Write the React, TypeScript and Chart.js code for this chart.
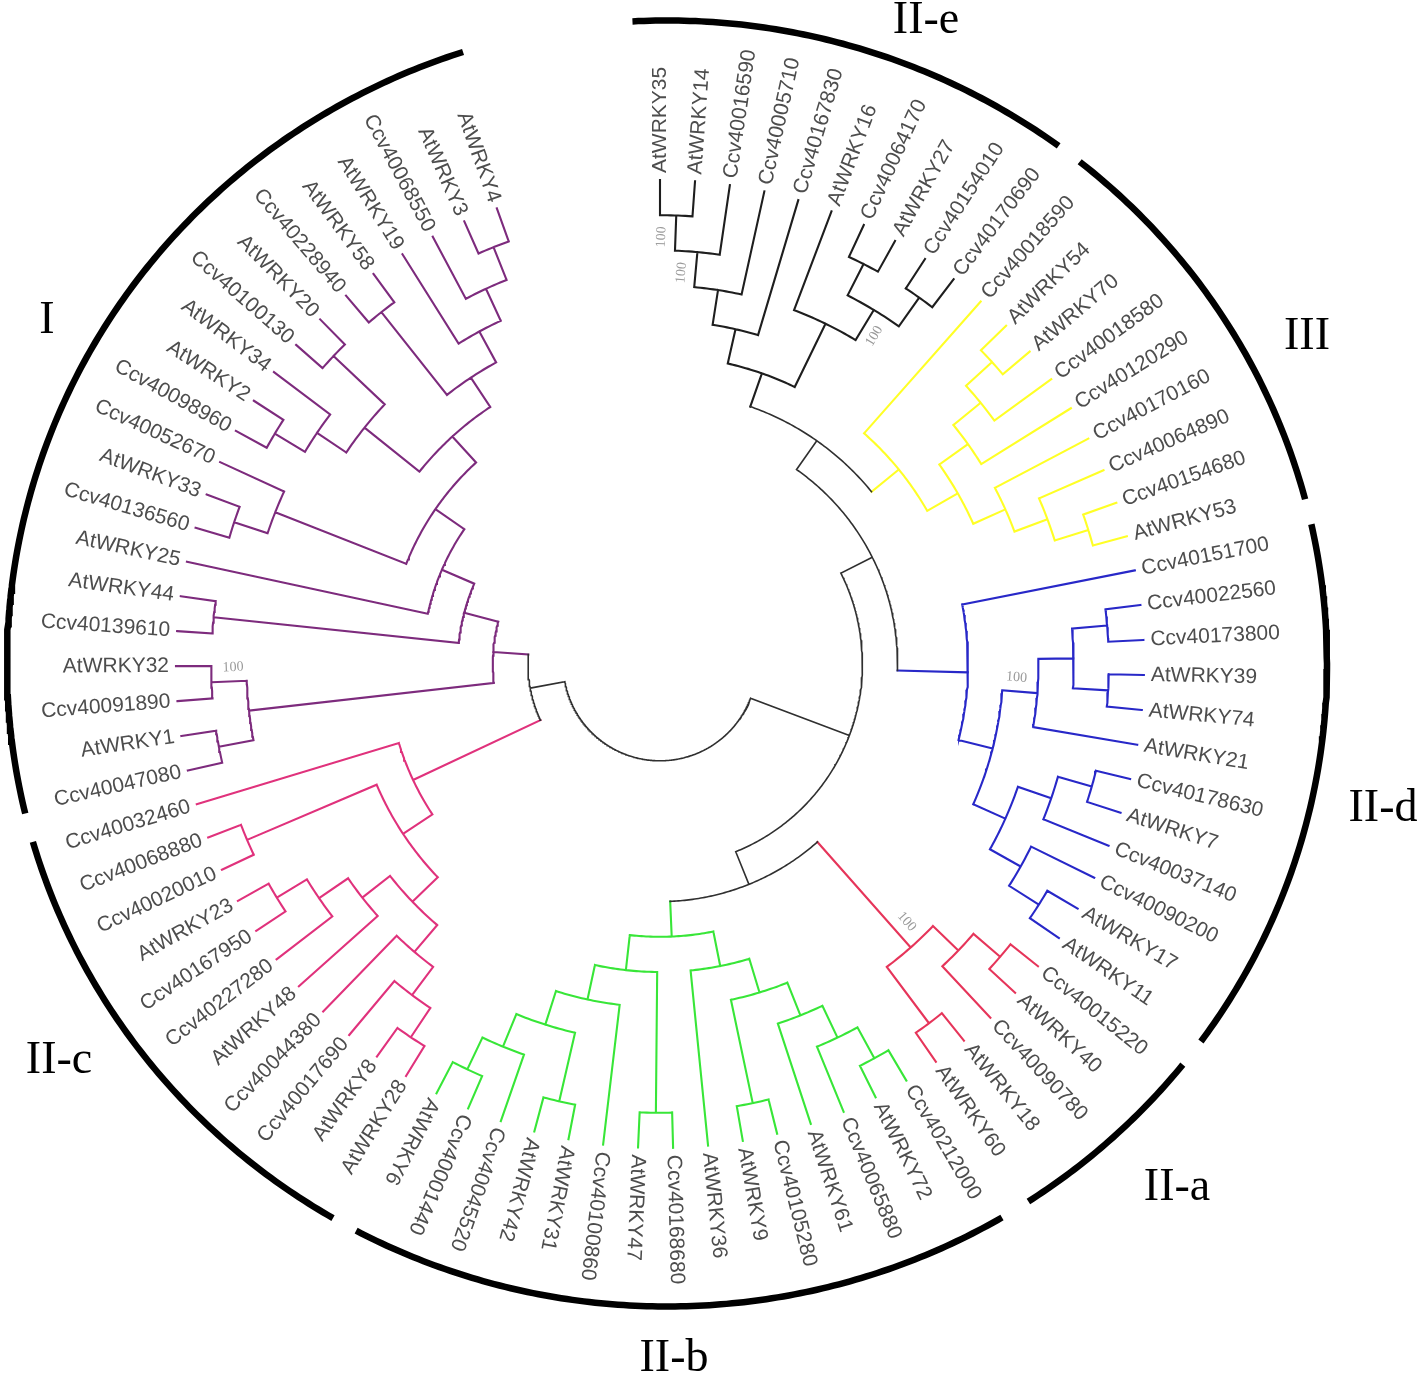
import React, { useEffect, useRef } from "react";
import { Chart, registerables } from "chart.js";

Chart.register(...registerables);

// ---------------- data ----------------
// leaves in clockwise order, starting at the top
const LEAVES: string[] = [
  "AtWRKY35", "AtWRKY14", "Ccv40016590", "Ccv40005710", "Ccv40167830", "AtWRKY16", "Ccv40064170", "AtWRKY27", "Ccv40154010", "Ccv40170690",
  "Ccv40018590", "AtWRKY54", "AtWRKY70", "Ccv40018580", "Ccv40120290", "Ccv40170160", "Ccv40064890", "Ccv40154680", "AtWRKY53",
  "Ccv40151700", "Ccv40022560", "Ccv40173800", "AtWRKY39", "AtWRKY74", "AtWRKY21", "Ccv40178630", "AtWRKY7", "Ccv40037140", "Ccv40090200", "AtWRKY17", "AtWRKY11",
  "Ccv40015220", "AtWRKY40", "Ccv40090780", "AtWRKY18", "AtWRKY60",
  "Ccv40212000", "AtWRKY72", "Ccv40065880", "AtWRKY61", "Ccv40105280", "AtWRKY9", "AtWRKY36", "Ccv40168680", "AtWRKY47", "Ccv40100860", "AtWRKY31", "AtWRKY42", "Ccv40045520", "Ccv40001440", "AtWRKY6",
  "AtWRKY28", "AtWRKY8", "Ccv40017690", "Ccv40044380", "AtWRKY48", "Ccv40227280", "Ccv40167950", "AtWRKY23", "Ccv40020010", "Ccv40068880", "Ccv40032460",
  "Ccv40047080", "AtWRKY1", "Ccv40091890", "AtWRKY32", "Ccv40139610", "AtWRKY44", "AtWRKY25", "Ccv40136560", "AtWRKY33", "Ccv40052670", "Ccv40098960", "AtWRKY2", "AtWRKY34", "Ccv40100130", "AtWRKY20", "Ccv40228940", "AtWRKY58", "AtWRKY19", "Ccv40068550", "AtWRKY3", "AtWRKY4",
];

const CLADE_NAMES = ["II-e", "III", "II-d", "II-a", "II-b", "II-c", "I"];
const CLADE_SIZES = [10, 9, 12, 5, 15, 11, 21];
const CLADE_COLORS = ["#1e1e1e", "#ffff26", "#2828c8", "#e6355a", "#38e638", "#e0327c", "#7d2b7d"];
const BACKBONE_COLOR = "#303030";

// outer ring segments (degrees, clockwise from top)
const RING_START_DEG = [-3, 38.7, 77.5, 128.6, 149.5, 210.4, 256.5];
const RING_END_DEG = [36.4, 75.2, 126.0, 146.8, 208.1, 253.9, 342.0];

// topology (cladogram) per clade, in Newick
const TREE_IIE = "(((((AtWRKY35,AtWRKY14),Ccv40016590),Ccv40005710),Ccv40167830),(AtWRKY16,((Ccv40064170,AtWRKY27),(Ccv40154010,Ccv40170690))))";
const TREE_III = "(Ccv40018590,((((AtWRKY54,AtWRKY70),Ccv40018580),Ccv40120290),(Ccv40170160,(Ccv40064890,(Ccv40154680,AtWRKY53)))))";
const TREE_IID = "(Ccv40151700,((((Ccv40022560,Ccv40173800),(AtWRKY39,AtWRKY74)),AtWRKY21),(((Ccv40178630,AtWRKY7),Ccv40037140),(Ccv40090200,(AtWRKY17,AtWRKY11)))))";
const TREE_IIA = "(((Ccv40015220,AtWRKY40),Ccv40090780),(AtWRKY18,AtWRKY60))";
const TREE_IIB = "((((((Ccv40212000,AtWRKY72),Ccv40065880),AtWRKY61),(Ccv40105280,AtWRKY9)),AtWRKY36),((Ccv40168680,AtWRKY47),(Ccv40100860,((AtWRKY31,AtWRKY42),(Ccv40045520,(Ccv40001440,AtWRKY6))))))";
const TREE_IIC = "((((((AtWRKY28,AtWRKY8),Ccv40017690),Ccv40044380),(AtWRKY48,(Ccv40227280,(Ccv40167950,AtWRKY23)))),(Ccv40020010,Ccv40068880)),Ccv40032460)";
const TREE_I_A = "((Ccv40047080,AtWRKY1),(Ccv40091890,AtWRKY32))";
const TREE_I_G = "((((Ccv40098960,AtWRKY2),AtWRKY34),(Ccv40100130,AtWRKY20)),((Ccv40228940,AtWRKY58),(AtWRKY19,(Ccv40068550,(AtWRKY3,AtWRKY4)))))";
const TREE_I_B = `((Ccv40139610,AtWRKY44),(AtWRKY25,(((Ccv40136560,AtWRKY33),Ccv40052670),${TREE_I_G})))`;
const TREE_I = `(${TREE_I_A},${TREE_I_B})`;
const TREE = `((((${TREE_IIE},${TREE_III}),${TREE_IID}),(${TREE_IIA},${TREE_IIB})),(${TREE_IIC},${TREE_I}))`;

// bootstrap values (node given by its first and last leaf)
const BOOT_FIRST = ["AtWRKY35", "AtWRKY35", "Ccv40064170", "Ccv40022560", "Ccv40091890", "Ccv40015220"];
const BOOT_LAST = ["AtWRKY14", "Ccv40016590", "Ccv40170690", "AtWRKY21", "AtWRKY32", "AtWRKY60"];
const BOOT_VALUES = ["100", "100", "100", "100", "100", "100"];

// ---------------- layout constants ----------------
const W = 1420;
const H = 1373;
const CX = 660;
const CY = 664;
const R_LEAF = 484;
const LEVEL = 35.2;
const LEAF_START = 0;
const LEAF_STEP = 4.15;
const LABEL_R = 491;
const RING_CX = 667;
const RING_CY = 663.5;
const RING_RX = 660;
const RING_RY = 643;
const BOOT_SIDE = [-1, -1, 1, -1, 1, -1];
const CLADE_LABEL_X = [926, 1307, 1383, 1177, 674, 59, 47];
const CLADE_LABEL_Y = [33, 349, 821, 1200, 1371, 1073, 333];

type TNode = {
  name: string | null;
  kids: TNode[];
  h: number;
  th: number;
  r: number;
  first: number;
  last: number;
  clade: number;
};

const cladeOfLeaf: number[] = [];
CLADE_SIZES.forEach((n, c) => {
  for (let k = 0; k < n; k++) cladeOfLeaf.push(c);
});

function parseNewick(src: string): TNode {
  let i = 0;
  const read = (): TNode => {
    const n: TNode = { name: null, kids: [], h: 0, th: 0, r: 0, first: 0, last: 0, clade: -1 };
    if (src[i] === "(") {
      i++;
      n.kids.push(read());
      while (src[i] === ",") {
        i++;
        n.kids.push(read());
      }
      i++;
    } else {
      const s = i;
      while (i < src.length && ",()".indexOf(src[i]) < 0) i++;
      n.name = src.slice(s, i).trim();
    }
    return n;
  };
  return read();
}

function layout(n: TNode) {
  if (!n.kids.length) {
    const idx = LEAVES.indexOf(n.name as string);
    n.first = n.last = idx;
    n.h = 0;
    n.th = LEAF_START + idx * LEAF_STEP;
  } else {
    n.kids.forEach(layout);
    n.h = 1 + Math.max(...n.kids.map((k) => k.h));
    n.first = n.kids[0].first;
    n.last = n.kids[n.kids.length - 1].last;
    n.th = (n.kids[0].th + n.kids[n.kids.length - 1].th) / 2;
  }
  n.r = R_LEAF - n.h * LEVEL;
  const c1 = cladeOfLeaf[n.first];
  const c2 = cladeOfLeaf[n.last];
  n.clade = c1 === c2 ? c1 : -1;
}

const polar = (thDeg: number, r: number) => {
  const a = (thDeg * Math.PI) / 180;
  return { x: CX + r * Math.sin(a), y: CY - r * Math.cos(a) };
};

function buildDatasets() {
  const root = parseNewick(TREE);
  layout(root);
  const all: TNode[] = [];
  const groups: Record<string, { x: number | null; y: number | null }[]> = {};
  const push = (color: string, pts: { x: number; y: number }[]) => {
    if (!groups[color]) groups[color] = [];
    if (groups[color].length) groups[color].push({ x: null, y: null });
    groups[color].push(...pts);
  };
  const walk = (n: TNode, parent: TNode | null) => {
    all.push(n);
    const color = n.clade >= 0 ? CLADE_COLORS[n.clade] : BACKBONE_COLOR;
    if (parent) push(color, [polar(n.th, parent.r), polar(n.th, n.r)]);
    if (n.kids.length) {
      const a0 = n.kids[0].th;
      const a1 = n.kids[n.kids.length - 1].th;
      const steps = Math.max(2, Math.ceil(Math.abs(a1 - a0) / 0.5));
      const pts = [];
      for (let k = 0; k <= steps; k++) pts.push(polar(a0 + ((a1 - a0) * k) / steps, n.r));
      push(color, pts);
      n.kids.forEach((k) => walk(k, n));
    }
  };
  walk(root, null);

  const datasets: any[] = Object.keys(groups).map((color) => ({
    data: groups[color],
    showLine: true,
    borderColor: color,
    borderWidth: color === BACKBONE_COLOR ? 1.6 : 2.1,
    pointRadius: 0,
    pointHoverRadius: 0,
    spanGaps: false,
    borderCapStyle: "square",
    borderJoinStyle: "miter",
    tension: 0,
    fill: false,
  }));

  const ring: { x: number | null; y: number | null }[] = [];
  RING_START_DEG.forEach((s, c) => {
    const e = RING_END_DEG[c];
    if (ring.length) ring.push({ x: null, y: null });
    const steps = Math.ceil((e - s) / 0.5);
    for (let k = 0; k <= steps; k++) {
      const a = ((s + ((e - s) * k) / steps) * Math.PI) / 180;
      ring.push({ x: RING_CX + RING_RX * Math.sin(a), y: RING_CY - RING_RY * Math.cos(a) });
    }
  });
  datasets.push({
    data: ring,
    showLine: true,
    borderColor: "#000000",
    borderWidth: 6.5,
    pointRadius: 0,
    pointHoverRadius: 0,
    spanGaps: false,
    borderCapStyle: "butt",
    tension: 0,
    fill: false,
  });
  return { datasets, nodes: all };
}

export default function App() {
  const ref = useRef<HTMLCanvasElement>(null);
  useEffect(() => {
    document.body.style.margin = "0";
    const { datasets, nodes } = buildDatasets();

    const labelPlugin = {
      id: "treeLabels",
      afterDatasetsDraw(chart: any) {
        const ctx: CanvasRenderingContext2D = chart.ctx;
        const xs = chart.scales.x;
        const ys = chart.scales.y;
        const toPx = (p: { x: number; y: number }) => [xs.getPixelForValue(p.x), ys.getPixelForValue(p.y)];
        const drawRadial = (text: string, th: number, r: number, align: "edge" | "center", dx = 0) => {
          const p = polar(th, r);
          let [x, y] = toPx(p);
          const a = (th * Math.PI) / 180;
          x += dx * Math.cos(a);
          y += dx * Math.sin(a);
          const flip = th > 209 && th < 359;
          ctx.save();
          ctx.translate(x, y);
          ctx.rotate(a - Math.PI / 2 + (flip ? Math.PI : 0));
          ctx.textAlign = align === "center" ? "center" : flip ? "right" : "left";
          ctx.fillText(text, 0, 0);
          ctx.restore();
        };

        ctx.save();
        ctx.textBaseline = "middle";
        ctx.fillStyle = "#4d4d4d";
        ctx.font = '21px "Liberation Sans", Arial, sans-serif';
        LEAVES.forEach((name, i) => drawRadial(name, LEAF_START + i * LEAF_STEP, LABEL_R, "edge"));

        ctx.fillStyle = "#9a9a9a";
        ctx.font = '14px "Liberation Serif", "Times New Roman", serif';
        BOOT_VALUES.forEach((v, k) => {
          const f = LEAVES.indexOf(BOOT_FIRST[k]);
          const l = LEAVES.indexOf(BOOT_LAST[k]);
          const node = nodes.find((n) => n.first === f && n.last === l);
          if (!node) return;
          drawRadial(v, node.th, node.r - 22, "center", BOOT_SIDE[k] * 14);
        });

        ctx.fillStyle = "#000000";
        ctx.textBaseline = "alphabetic";
        ctx.textAlign = "center";
        ctx.font = '46px "Liberation Serif", "Times New Roman", serif';
        CLADE_NAMES.forEach((name, c) => {
          const x = xs.getPixelForValue(CLADE_LABEL_X[c]);
          const y = ys.getPixelForValue(CLADE_LABEL_Y[c]);
          ctx.fillText(name, x, y);
        });
        ctx.restore();
      },
    };

    const chart = new Chart(ref.current as HTMLCanvasElement, {
      type: "scatter",
      data: { datasets },
      options: {
        responsive: false,
        animation: false,
        events: [],
        layout: { padding: 0 },
        plugins: { legend: { display: false }, tooltip: { enabled: false } },
        scales: {
          x: { type: "linear", min: 0, max: W, display: false },
          y: { type: "linear", min: 0, max: H, reverse: true, display: false },
        },
      },
      plugins: [labelPlugin],
    } as any);
    return () => chart.destroy();
  }, []);

  return (
    <div style={{ width: W, height: H, background: "#ffffff" }}>
      <canvas ref={ref} width={W} height={H} style={{ display: "block", width: W, height: H }} />
    </div>
  );
}
